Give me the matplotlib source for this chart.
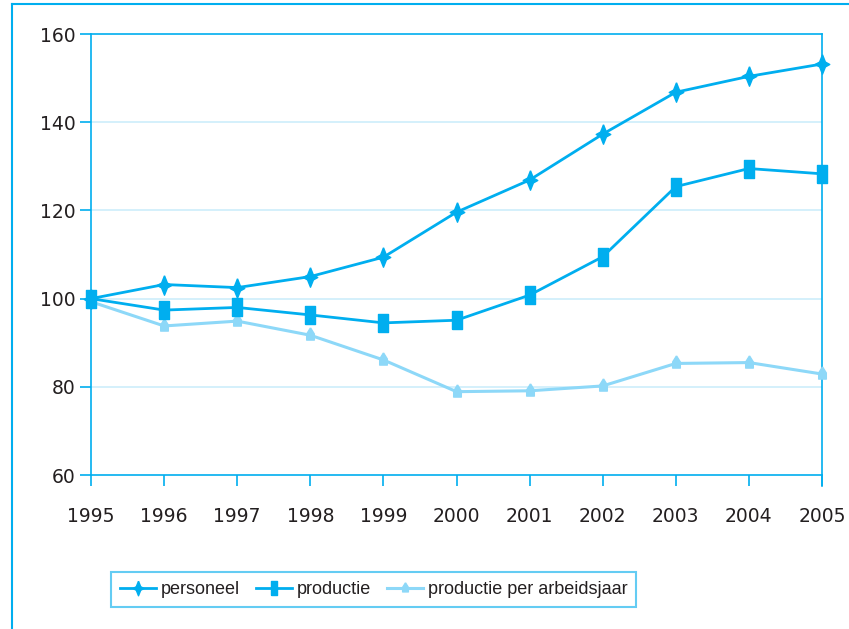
import matplotlib.pyplot as plt
from matplotlib.path import Path
from matplotlib.lines import Line2D

# index 1995 = 100
years = [1995, 1996, 1997, 1998, 1999, 2000, 2001, 2002, 2003, 2004, 2005]
personeel = [100, 103.2, 102.5, 105.0, 109.4, 119.6, 126.9, 137.3, 146.8, 150.4, 153.2]
productie = [100, 97.4, 98.0, 96.3, 94.5, 95.1, 100.8, 109.5, 125.4, 129.5, 128.3]
per_arbeidsjaar = [99.3, 93.8, 94.9, 91.7, 86.1, 78.9, 79.1, 80.2, 85.3, 85.5, 82.9]
labels = ["personeel", "productie", "productie per arbeidsjaar"]
y_ticks = [60, 80, 100, 120, 140, 160]

BLUE = "#00AEEF"
LIGHT = "#8DD8F8"
GRID = "#CDEEFB"
TEXT = "#231F20"

# custom markers
star = Path([(0, 1), (0.3, 0.25), (0.75, 0), (0.3, -0.25), (0, -1),
             (-0.3, -0.25), (-0.75, 0), (-0.3, 0.25), (0, 1)])
rect = Path([(-0.38, -0.75), (0.38, -0.75), (0.38, 0.75), (-0.38, 0.75), (-0.38, -0.75)])
drop = Path([(0, 1), (0.5, 0.2), (0.5, -0.6), (-0.5, -0.6), (-0.5, 0.2), (0, 1)])

fig = plt.figure(figsize=(8.49, 6.29), dpi=100)
ax = fig.add_axes([0.1072, 0.2448, 0.861, 0.7011])

ax.plot(years, per_arbeidsjaar, color=LIGHT, lw=2.2, marker=drop, ms=11,
        mec=LIGHT, mfc=LIGHT, clip_on=False, zorder=3, label=labels[2])
ax.plot(years, productie, color=BLUE, lw=2.0, marker=rect, ms=13,
        mec=BLUE, mfc=BLUE, clip_on=False, zorder=4, label=labels[1])
ax.plot(years, personeel, color=BLUE, lw=2.0, marker=star, ms=14,
        mec=BLUE, mfc=BLUE, clip_on=False, zorder=5, label=labels[0])

ax.set_xlim(1995, 2005)
ax.set_ylim(60, 160)
ax.set_xticks(years)
ax.set_yticks(y_ticks)
for y in y_ticks[1:-1]:
    ax.axhline(y, color=GRID, lw=1.2, zorder=1)

for s in ax.spines.values():
    s.set_color(BLUE)
    s.set_linewidth(1.2)
ax.tick_params(axis="both", colors=BLUE, width=1.2, length=8, direction="out",
               labelcolor=TEXT, labelsize=13.5)
ax.tick_params(axis="x", pad=15)
ax.tick_params(axis="y", pad=3)
ax.plot([2005, 2005], [60, 57.5], color=BLUE, lw=1.2, clip_on=False)

# outer frame
fig.add_artist(Line2D([12 / 849, 12 / 849], [0, 1 - 4 / 629], color=BLUE, lw=1.5))
fig.add_artist(Line2D([12 / 849, 1], [1 - 4 / 629, 1 - 4 / 629], color=BLUE, lw=1.5))

handles, lbls = ax.get_legend_handles_labels()
order = [2, 1, 0]
leg = fig.legend([handles[i] for i in order], [lbls[i] for i in order],
                 loc="center", bbox_to_anchor=(0.44, 0.063), ncol=3,
                 frameon=True, fancybox=False, handlelength=2.0, handletextpad=0.25,
                 columnspacing=0.9, borderpad=0.5, markerscale=0.75,
                 prop={"family": ["Liberation Sans", "DejaVu Sans"], "size": 13})
leg.get_frame().set_edgecolor("#3DC0F0")
leg.get_frame().set_linewidth(1.5)
for t in leg.get_texts():
    t.set_color(TEXT)

fig.savefig("out.png", dpi=100)
